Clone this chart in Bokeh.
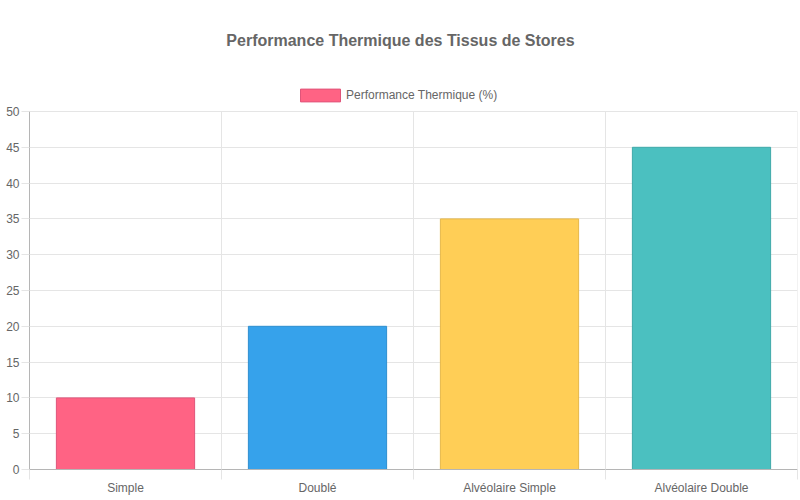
from bokeh.plotting import figure
from bokeh.models import ColumnDataSource, Range1d, FixedTicker, Legend, LegendItem, Label
from bokeh.embed import file_html
from bokeh.resources import INLINE

categories = ["Simple", "Doublé", "Alvéolaire Simple", "Alvéolaire Double"]
values = [10, 20, 35, 45]
fill_colors = ["#FF6384", "#36A2EB", "#FFCE56", "#4BC0C0"]
line_colors = ["#E0557A", "#2E8FD0", "#E6B84A", "#3FA9A9"]
series_name = "Performance Thermique (%)"
title_text = "Performance Thermique des Tissus de Stores"
y_ticks = list(range(0, 51, 5))

FONT = "Liberation Sans"
TXT = "#666666"
GRID = "#e5e5e5"
AXIS = "#b5b5b5"

# layout (pixels inside the canvas)
LEFT, RIGHT = 29, 3
FW = 800 - LEFT - RIGHT
FH = 469          # frame runs from canvas top down to the x axis
PLOT_TOP = 111    # pixel row of the top y tick
y_max_tick = max(y_ticks)
y_top = y_max_tick * FH / (FH - PLOT_TOP)

n = len(categories)


def py_to_y(py):
    return (FH - py) / (FH - PLOT_TOP) * y_max_tick


def px_to_x(px):
    return (px - LEFT) / FW * n


centers = [i + 0.5 for i in range(n)]
bounds = list(range(n + 1))
src = ColumnDataSource(dict(x=centers, top=values, fill=fill_colors, line=line_colors))

p = figure(frame_width=FW, frame_height=FH, output_backend="svg", toolbar_location=None,
           x_range=Range1d(0, n), y_range=Range1d(0, y_top),
           min_border_left=LEFT, min_border_right=RIGHT, min_border_bottom=24, min_border_top=0)
p.outline_line_color = None

# vertical grid lines limited to the value area
p.segment(x0=bounds, y0=[0] * len(bounds), x1=bounds, y1=[y_max_tick] * len(bounds),
          line_color=GRID, line_width=1)

r = p.vbar(x="x", top="top", width=0.72, bottom=0, source=src,
           fill_color="fill", line_color="line", line_width=1)

# title (centred on the canvas)
p.add_layout(Label(x=px_to_x(400), y=py_to_y(40), text=title_text, text_align="center",
                   text_baseline="middle", text_font=FONT, text_font_size="16px",
                   text_font_style="bold", text_color=TXT))

# legend
dummy = p.vbar(x=[0.5], top=[0], width=0.0, fill_color=fill_colors[0], line_color=line_colors[0])
legend = Legend(items=[LegendItem(label=series_name, renderers=[dummy])],
                orientation="horizontal", location=(295 - LEFT, FH - 102.5),
                glyph_width=50, glyph_height=16, label_text_font=FONT,
                label_text_font_size="12px", label_text_color=TXT,
                border_line_color=None, background_fill_alpha=0,
                padding=0, margin=0, label_standoff=1, label_height=13, spacing=0)
p.add_layout(legend)

xa = p.xaxis[0]
xa.ticker = FixedTicker(ticks=centers, minor_ticks=bounds)
xa.major_label_overrides = {c: cat for c, cat in zip(centers, categories)}
xa.major_tick_out = 0
xa.major_tick_in = 0
xa.minor_tick_out = 10
xa.minor_tick_in = 0
xa.minor_tick_line_color = GRID
xa.axis_line_color = AXIS
xa.major_label_text_font = FONT
xa.major_label_text_font_size = "12px"
xa.major_label_text_color = TXT
xa.major_label_standoff = 1

ya = p.yaxis[0]
ya.ticker = FixedTicker(ticks=y_ticks)
ya.bounds = (0, y_max_tick)
ya.major_tick_out = 8
ya.major_tick_in = 0
ya.major_tick_line_color = GRID
ya.minor_tick_line_color = None
ya.axis_line_color = AXIS
ya.major_label_text_font = FONT
ya.major_label_text_font_size = "12px"
ya.major_label_text_color = TXT
ya.major_label_standoff = 2

p.xgrid.grid_line_color = None
p.ygrid.ticker = FixedTicker(ticks=y_ticks)
p.ygrid.grid_line_color = GRID

open("out.html", "w").write(file_html(p, INLINE))
